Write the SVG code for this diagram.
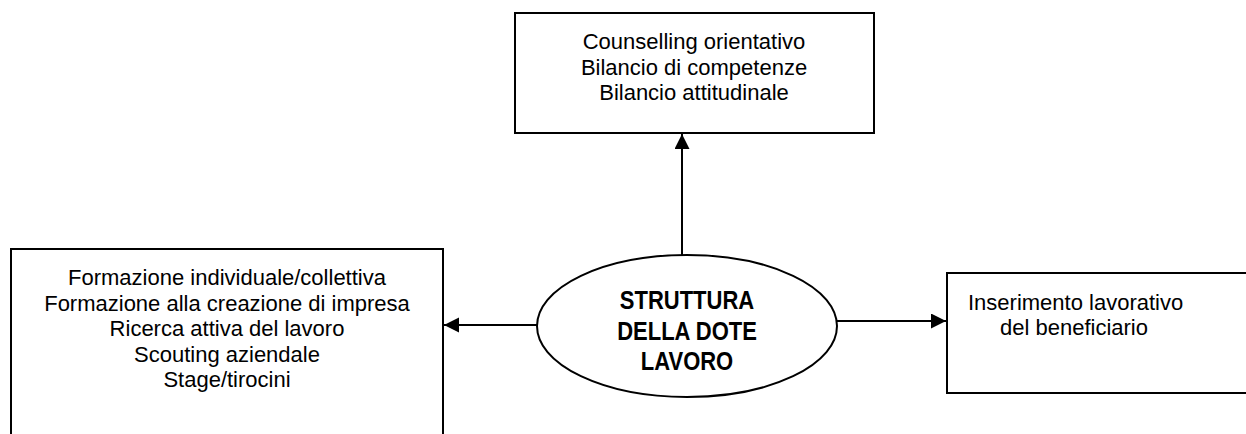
<svg xmlns="http://www.w3.org/2000/svg" width="1246" height="434" viewBox="0 0 1246 434">
  <style>
    .box { fill: #ffffff; stroke: #000000; stroke-width: 2; }
    .txt { font-family: "Liberation Sans", Arial, sans-serif; font-size: 22px; fill: #000000; }
    .mid { text-anchor: middle; }
    .bold { font-weight: bold; }
    .conn { fill: none; stroke: #000000; stroke-width: 2; marker-end: url(#arrow); }
  </style>
  <defs>
    <marker id="arrow" markerUnits="userSpaceOnUse" markerWidth="16" markerHeight="16" refX="15" refY="7.5" orient="auto">
      <path d="M0,0 L15,7.5 L0,15 Z" fill="#000000"/>
    </marker>
  </defs>
  <rect width="1246" height="434" fill="#ffffff"/>

  <g id="connectors">
    <line class="conn" x1="682" y1="255" x2="682" y2="134"/>
    <line class="conn" x1="538" y1="325" x2="444" y2="325"/>
    <line class="conn" x1="826" y1="321" x2="946" y2="321"/>
  </g>

  <g id="node-top">
    <rect class="box" x="515" y="13" width="359" height="120"/>
    <text class="txt mid" x="694" y="49">Counselling orientativo</text>
    <text class="txt mid" x="694" y="75">Bilancio di competenze</text>
    <text class="txt mid" x="694" y="100">Bilancio attitudinale</text>
  </g>

  <g id="node-left">
    <rect class="box" x="11" y="249" width="432" height="200"/>
    <text class="txt mid" x="227" y="285">Formazione individuale/collettiva</text>
    <text class="txt mid" x="227" y="310.5">Formazione alla creazione di impresa</text>
    <text class="txt mid" x="227" y="336">Ricerca attiva del lavoro</text>
    <text class="txt mid" x="227" y="361.5">Scouting aziendale</text>
    <text class="txt mid" x="227" y="387">Stage/tirocini</text>
  </g>

  <g id="node-center">
    <ellipse cx="687" cy="326" rx="150" ry="71" fill="#ffffff" stroke="#000000" stroke-width="2"/>
    <text class="txt mid bold" transform="translate(687,309) scale(1,1.17)">STRUTTURA</text>
    <text class="txt mid bold" transform="translate(687,340) scale(1,1.17)">DELLA DOTE</text>
    <text class="txt mid bold" transform="translate(687,370) scale(1,1.17)">LAVORO</text>
  </g>

  <g id="node-right">
    <rect class="box" x="947" y="273" width="320" height="120"/>
    <text class="txt" x="968" y="310">Inserimento lavorativo</text>
    <text class="txt" x="1000" y="335">del beneficiario</text>
  </g>
</svg>
